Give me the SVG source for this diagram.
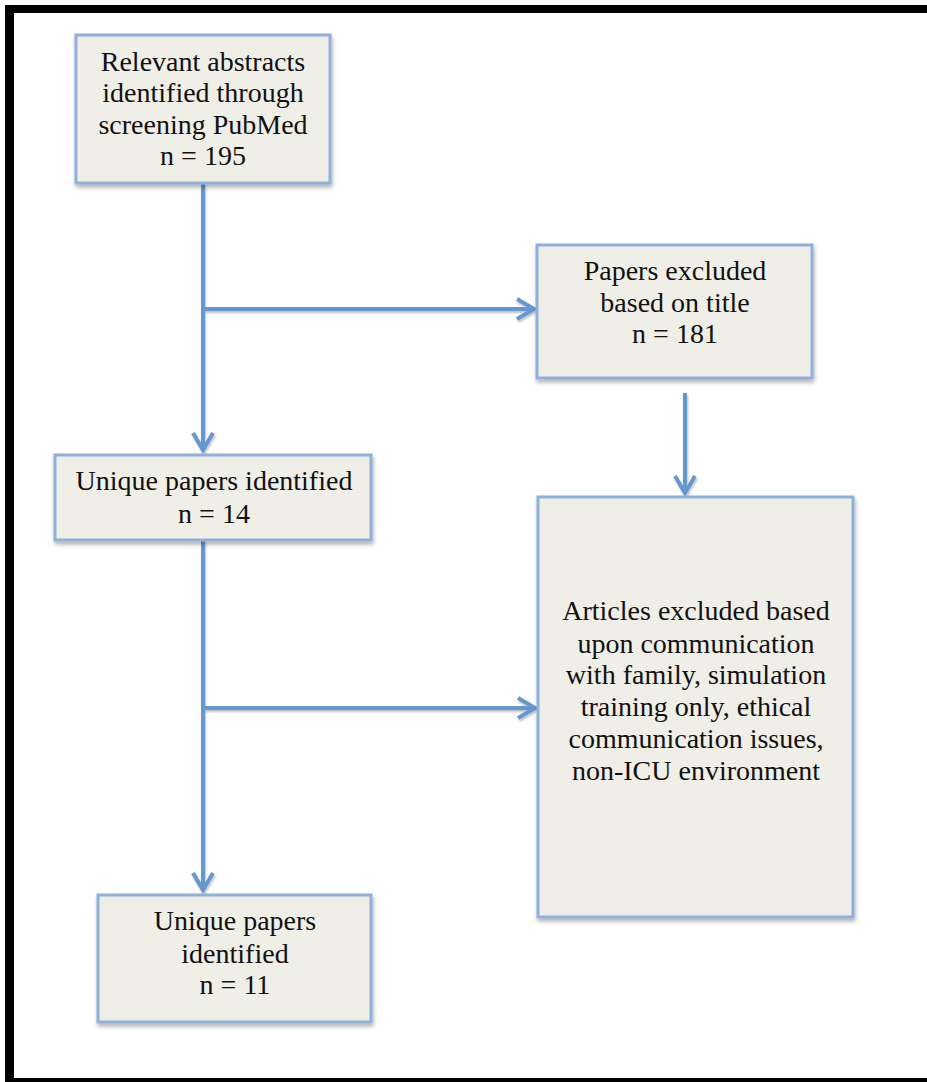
<svg xmlns="http://www.w3.org/2000/svg" width="927" height="1082" viewBox="0 0 927 1082">
<style>
.box{fill:#efeee7;stroke:#8eb0da;stroke-width:3;filter:url(#sh)}
.lbl{font-family:"Liberation Serif","Times New Roman",serif;font-size:28px;fill:#111;text-anchor:middle}
.con{fill:none;stroke:#6698d0;stroke-width:4;marker-end:url(#arr)}
</style>
<defs>
<filter id="sh" x="-10%" y="-10%" width="125%" height="130%">
<feDropShadow dx="1" dy="3" stdDeviation="2" flood-color="#000" flood-opacity="0.3"/>
</filter>
<filter id="lsh" x="-20%" y="-20%" width="140%" height="140%">
<feDropShadow dx="1" dy="2" stdDeviation="1.2" flood-color="#000" flood-opacity="0.25"/>
</filter>
<marker id="arr" markerUnits="userSpaceOnUse" markerWidth="26" markerHeight="28" refX="21" refY="14" orient="auto">
<path d="M3,4 L20,14 L3,24" fill="none" stroke="#6698d0" stroke-width="4" stroke-linejoin="miter"/>
</marker>
</defs>
<rect width="927" height="1082" fill="#fff"/>
<g id="frame" fill="#000">
<rect x="5" y="5" width="922" height="8"/>
<rect x="5" y="5" width="9" height="1077"/>
<rect x="5" y="1078" width="922" height="4"/>
</g>
<g id="connectors" filter="url(#lsh)">
<path class="con" d="M203,183 V451"/>
<path class="con" d="M203,309 H535"/>
<path class="con" d="M685,393 V494"/>
<path class="con" d="M203,540 V891"/>
<path class="con" d="M203,708 H536"/>
</g>
<g id="n1">
<rect class="box" x="76" y="35" width="254" height="148"/>
<text class="lbl" x="203" y="71">Relevant abstracts</text>
<text class="lbl" x="203" y="102">identified through</text>
<text class="lbl" x="203" y="134">screening PubMed</text>
<text class="lbl" x="203" y="165">n = 195</text>
</g>
<g id="n2">
<rect class="box" x="537" y="245" width="275" height="133"/>
<text class="lbl" x="675" y="280">Papers excluded</text>
<text class="lbl" x="675" y="312">based on title</text>
<text class="lbl" x="675" y="343">n = 181</text>
</g>
<g id="n3">
<rect class="box" x="538" y="497" width="315" height="420"/>
<text class="lbl" x="696" y="620">Articles excluded based</text>
<text class="lbl" x="696" y="653">upon communication</text>
<text class="lbl" x="696" y="684">with family, simulation</text>
<text class="lbl" x="696" y="716">training only, ethical</text>
<text class="lbl" x="696" y="748">communication issues,</text>
<text class="lbl" x="696" y="780">non-ICU environment</text>
</g>
<g id="n4">
<rect class="box" x="55" y="455" width="316" height="85"/>
<text class="lbl" x="214" y="490">Unique papers identified</text>
<text class="lbl" x="214" y="523">n = 14</text>
</g>
<g id="n5">
<rect class="box" x="98" y="895" width="273" height="127"/>
<text class="lbl" x="235" y="930">Unique papers</text>
<text class="lbl" x="235" y="963">identified</text>
<text class="lbl" x="235" y="994">n = 11</text>
</g>
</svg>
